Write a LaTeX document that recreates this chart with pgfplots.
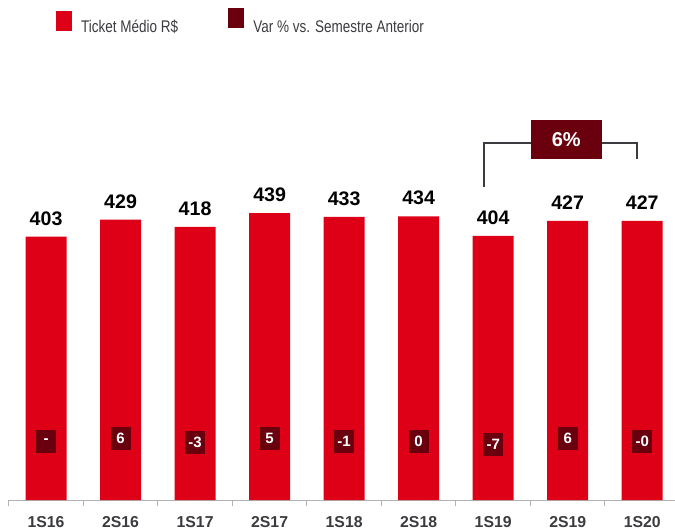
\documentclass[border=0pt]{standalone}
\usepackage{fontspec}
\setmainfont{Liberation Sans}
\usepackage{graphicx}
\usepackage{pgfplots}
\usepackage{pgfplotstable}
\pgfplotsset{compat=1.18}
\definecolor{barred}{RGB}{222,0,22}
\definecolor{varred}{RGB}{106,0,14}
\definecolor{txtgray}{RGB}{60,60,64}

\pgfplotstableread{
x t   v  lab
0 403 0  -
1 429 6  6
2 418 -3 -3
3 439 5  5
4 433 -1 -1
5 434 0  0
6 404 -7 -7
7 427 6  6
8 427 0  -0
}\datatable

\begin{document}
\begin{tikzpicture}
  \begin{axis}[
      scale only axis,
      width=666.2pt, height=500pt,
      xmin=-0.5, xmax=8.44,
      ymin=0, ymax=765,
      clip=false,
      axis x line*=bottom,
      axis y line=none,
      xtick={0,...,8},
      xticklabels={1S16,2S16,1S17,2S17,1S18,2S18,1S19,2S19,1S20},
      major tick length=0pt,
      minor xtick={-0.5,0.5,...,7.5},
      minor tick length=6pt,
      tick align=outside,
      x axis line style={gray!60, line width=1pt},
      minor x tick style={gray!60, line width=1pt},
      xticklabel style={font=\fontsize{15.8}{18}\selectfont\bfseries,
        text=txtgray, inner sep=0pt, anchor=north, yshift=-16pt},
      legend columns=2,
      legend style={draw=none, fill=none, inner sep=0pt,
        at={(axis description cs:0.0709,0.958)}, anchor=west,
        font=\fontsize{13.5}{16}\selectfont, text=txtgray,
        nodes={inner sep=0pt},
        /tikz/every odd column/.style={column sep=9pt},
        /tikz/every even column/.style={column sep=50pt}},
    ]
    % ticket medio
    \addplot[ybar, bar width=41pt, bar shift=0pt, fill=barred, draw=none,
        legend image code/.code={\fill[barred] (0pt,-4pt) rectangle (16pt,16pt);},
        nodes near coords={\pgfplotspointmeta},
        point meta=explicit symbolic,
        every node near coord/.append style={font=\fontsize{19.6}{22}\selectfont\bfseries,
          text=black, inner sep=0pt, anchor=south, yshift=11pt}]
      table[x=x, y=t, meta=t] {\datatable};
    \addlegendentry{\scalebox{1}[1.25]{Ticket Médio R\$}}
    % var % vs semestre anterior
    \addplot[draw=none, mark=none,
        legend image code/.code={\fill[varred] (0pt,-1pt) rectangle (16pt,19pt);},
        nodes near coords={\pgfplotspointmeta},
        point meta=explicit symbolic,
        every node near coord/.append style={fill=varred, text=white,
          font=\fontsize{15}{17}\selectfont\bfseries,
          minimum width=20pt, minimum height=23pt, inner sep=3pt, anchor=center}]
      table[x=x, y expr=90+0.8*\thisrow{v}, meta=lab] {\datatable};
    \addlegendentry{\scalebox{1}[1.25]{Var \% vs. Semestre Anterior}}
    % bracket 1S19 -> 1S20
    \draw[txtgray, line width=1.8pt]
      (axis cs:5.88,479) |- (axis cs:7.93,546.3) -- (axis cs:7.93,521.8);
    \node[fill=varred, text=white, minimum width=70.7pt, minimum height=39pt,
      inner sep=0pt, font=\fontsize{20}{24}\selectfont\bfseries]
      at (axis cs:6.98,551.6) {6\%};
  \end{axis}
  \pgfresetboundingbox
  \path (-8.8pt,-31pt) rectangle (666.2pt,500pt);
\end{tikzpicture}
\end{document}
